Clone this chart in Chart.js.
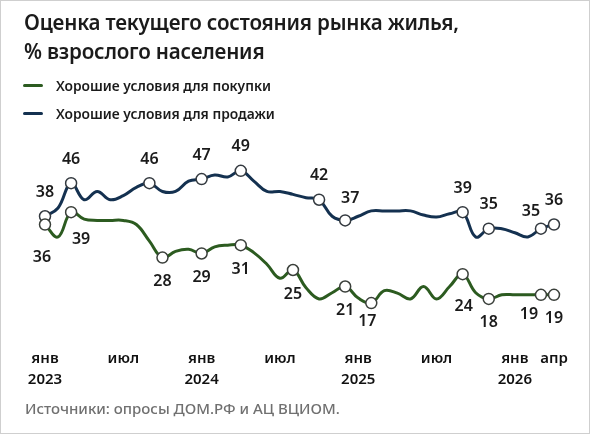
<!DOCTYPE html>
<html lang="ru">
<head>
<meta charset="utf-8">
<script src="https://cdn.jsdelivr.net/npm/chart.js@4"></script>
<style>
  html, body { margin: 0; padding: 0; background: #fff; }
  #frame {
    position: relative; width: 590px; height: 434px; box-sizing: border-box;
    border: 1px solid #cfcfcf; font-family: 'Noto Sans', sans-serif; overflow: hidden;
  }
  #title { position: absolute; left: 23px; top: 7px; font-size: 20.6px; font-weight: 600; line-height: 29px; color: #1b1b1b; letter-spacing: -0.2px; }
  .leg { position: absolute; left: 22px; font-size: 13.8px; font-weight: 600; color: #1b1b1b; display: flex; align-items: center; }
  .leg i { display: inline-block; width: 20px; height: 3px; margin-right: 13px; border-radius: 2px; }
  #src { position: absolute; left: 24px; top: 397px; font-size: 15px; font-weight: 500; color: #707070; }
  canvas { position: absolute; left: 0; top: 0; }
</style>
</head>
<body>
<div id="frame">
  <canvas id="chart" width="590" height="434"></canvas>
  <div id="title">Оценка текущего состояния рынка жилья,<br>% взрослого населения</div>
  <div class="leg" style="top:75px"><i style="background:#2c5b20"></i>Хорошие условия для покупки</div>
  <div class="leg" style="top:103px"><i style="background:#143150"></i>Хорошие условия для продажи</div>
  <div id="src">Источники: опросы ДОМ.РФ и АЦ ВЦИОМ.</div>
</div>
<script>
// months Jan 2023 .. Apr 2026
const MONTHS = Array.from({ length: 40 }, (_, i) => i);
const TICK_LABELS = {
    0: ['янв', '2023'], 6: ['июл'], 12: ['янв', '2024'], 18: ['июл'],
    24: ['янв', '2025'], 30: ['июл'], 36: ['янв', '2026'], 39: ['апр']
};

const BUY = [
    36, 33, 39, 37.3, 37, 37, 37, 36, 32, 28,
    29.5, 30, 29, 30.6, 31, 31, 29.2, 26.4, 23, 25,
    20.7, 18, 19.5, 21, 18.2, 17, 20, 19.4, 18, 21,
    18, 21, 24, 19.5, 18, 19, 19, 19, 19, 19
];
const SELL = [
    38, 40, 46, 42, 44, 42, 43, 45, 46, 44,
    44, 46.5, 47, 48, 47.5, 49, 46.5, 44, 44, 43.3,
    42.5, 42, 38, 37, 38, 39.3, 39.3, 39.3, 39.3, 38.3,
    37.8, 38.6, 39, 33, 35, 35, 34, 33, 35, 36
];
// months that carry a marker and a value label
const BUY_MARKED = [0, 2, 9, 12, 15, 19, 23, 25, 32, 34, 38, 39];
const SELL_MARKED = [0, 2, 8, 12, 15, 21, 23, 32, 34, 38, 39];

const GREEN = '#2c5b20';
const NAVY = '#143150';

// label nudges: [dx, dy] relative to the marker
const LABEL_POS = {
    buy: { default: [0, 24], 0: [-3, 33], 2: [10, 27], 25: [-4, 18], 32: [1, 32], 38: [-12, 20] },
    sell: { default: [0, -24], 23: [5, -22], 38: [-10, -17] }
};

const valueLabels = {
    id: 'valueLabels',
    afterDatasetsDraw(chart) {
        const { ctx } = chart;
        ctx.save();
        ctx.font = '600 16px "Noto Sans"';
        ctx.fillStyle = '#1b1b1b';
        ctx.textAlign = 'center';
        ctx.textBaseline = 'middle';
        chart.data.datasets.forEach((ds, di) => {
            const meta = chart.getDatasetMeta(di);
            const pos = LABEL_POS[ds.key];
            ds.marked.forEach(idx => {
                const pt = meta.data[idx];
                const [dx, dy] = pos[idx] || pos.default;
                ctx.fillText(Math.round(ds.data[idx]), pt.x + dx, pt.y + dy);
            });
        });
        ctx.restore();
    }
};

const markerRadius = marked => c => marked.includes(c.dataIndex) ? 5.5 : 0;

new Chart(document.getElementById('chart'), {
    type: 'line',
    data: {
        labels: MONTHS,
        datasets: [
            {
                key: 'buy', marked: BUY_MARKED, data: BUY,
                borderColor: GREEN, borderWidth: 3, tension: 0.4,
                pointRadius: markerRadius(BUY_MARKED), pointHoverRadius: 0,
                pointBackgroundColor: '#fff', pointBorderColor: '#3a3f3a', pointBorderWidth: 1.5
            },
            {
                key: 'sell', marked: SELL_MARKED, data: SELL,
                borderColor: NAVY, borderWidth: 3, tension: 0.4,
                pointRadius: markerRadius(SELL_MARKED), pointHoverRadius: 0,
                pointBackgroundColor: '#fff', pointBorderColor: '#33393f', pointBorderWidth: 1.5
            }
        ]
    },
    options: {
        responsive: false,
        animation: false,
        layout: { padding: { left: 44, right: 37, top: 145, bottom: 33 } },
        plugins: { legend: { display: false }, tooltip: { enabled: false } },
        scales: {
            x: {
                type: 'category',
                offset: false,
                grid: { display: false },
                border: { display: false },
                afterFit: s => { s.height = 70; },
                ticks: {
                    autoSkip: false, maxRotation: 0, padding: 9,
                    color: '#111',
                    font: { family: 'Noto Sans', size: 15, weight: '600', lineHeight: 1.35 },
                    callback: (v, i) => TICK_LABELS[i] || ''
                }
            },
            y: { display: false, min: 10, max: 55 }
        }
    },
    plugins: [valueLabels]
});
</script>
</body>
</html>
